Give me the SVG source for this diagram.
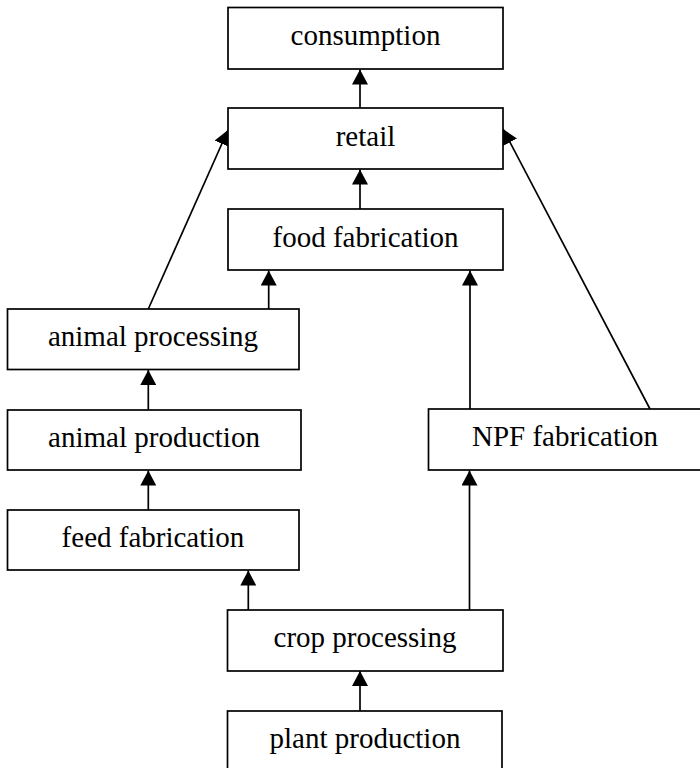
<svg xmlns="http://www.w3.org/2000/svg" width="700" height="768" viewBox="0 0 700 768">
  <style>
    .box { fill: #ffffff; stroke: #000000; stroke-width: 1.7; }
    .lbl { font-family: "Liberation Serif", "Times New Roman", serif; font-size: 29px; fill: #000000; text-anchor: middle; }
    .edge { stroke: #000000; stroke-width: 1.7; fill: none; marker-end: url(#arrow); }
  </style>
  <defs>
    <marker id="arrow" markerUnits="userSpaceOnUse" markerWidth="16" markerHeight="16" refX="15" refY="8" orient="auto" viewBox="0 0 16 16">
      <path d="M0,0 L15,8 L0,16 Z" fill="#000000"/>
    </marker>
  </defs>
  <rect width="700" height="768" fill="#ffffff"/>

  <!-- connectors -->
  <g id="connectors">
    <line class="edge" x1="360" y1="108" x2="360" y2="69.5"/>
    <line class="edge" x1="360" y1="209" x2="360" y2="169.5"/>
    <line class="edge" x1="268.7" y1="309" x2="268.7" y2="270.5"/>
    <line class="edge" x1="148.3" y1="309" x2="228" y2="130"/>
    <line class="edge" x1="470" y1="409" x2="470" y2="270.5"/>
    <line class="edge" x1="650" y1="409" x2="503" y2="129"/>
    <line class="edge" x1="148.3" y1="410" x2="148.3" y2="370"/>
    <line class="edge" x1="148.3" y1="510" x2="148.3" y2="470.5"/>
    <line class="edge" x1="248.3" y1="610" x2="248.3" y2="570.5"/>
    <line class="edge" x1="469.5" y1="610" x2="469.5" y2="470.5"/>
    <line class="edge" x1="360" y1="711" x2="360" y2="671"/>
  </g>

  <!-- nodes -->
  <g id="consumption">
    <rect class="box" x="228" y="7.5" width="275" height="61.5"/>
    <text class="lbl" x="365.5" y="45">consumption</text>
  </g>
  <g id="retail">
    <rect class="box" x="228" y="108" width="275" height="61"/>
    <text class="lbl" x="365.5" y="146">retail</text>
  </g>
  <g id="food-fabrication">
    <rect class="box" x="228" y="209" width="275" height="61"/>
    <text class="lbl" x="365.5" y="247">food fabrication</text>
  </g>
  <g id="animal-processing">
    <rect class="box" x="7.5" y="309" width="291.5" height="60.5"/>
    <text class="lbl" x="153" y="346">animal processing</text>
  </g>
  <g id="animal-production">
    <rect class="box" x="7.5" y="410" width="293.5" height="60"/>
    <text class="lbl" x="154" y="447">animal production</text>
  </g>
  <g id="feed-fabrication">
    <rect class="box" x="7.5" y="510" width="291.5" height="60"/>
    <text class="lbl" x="153" y="547">feed fabrication</text>
  </g>
  <g id="npf-fabrication">
    <rect class="box" x="428.5" y="409" width="273" height="61"/>
    <text class="lbl" x="565" y="446">NPF fabrication</text>
  </g>
  <g id="crop-processing">
    <rect class="box" x="227.5" y="610" width="275.5" height="61"/>
    <text class="lbl" x="365" y="647">crop processing</text>
  </g>
  <g id="plant-production">
    <rect class="box" x="227.5" y="711" width="274.5" height="61"/>
    <text class="lbl" x="365" y="748">plant production</text>
  </g>
</svg>
